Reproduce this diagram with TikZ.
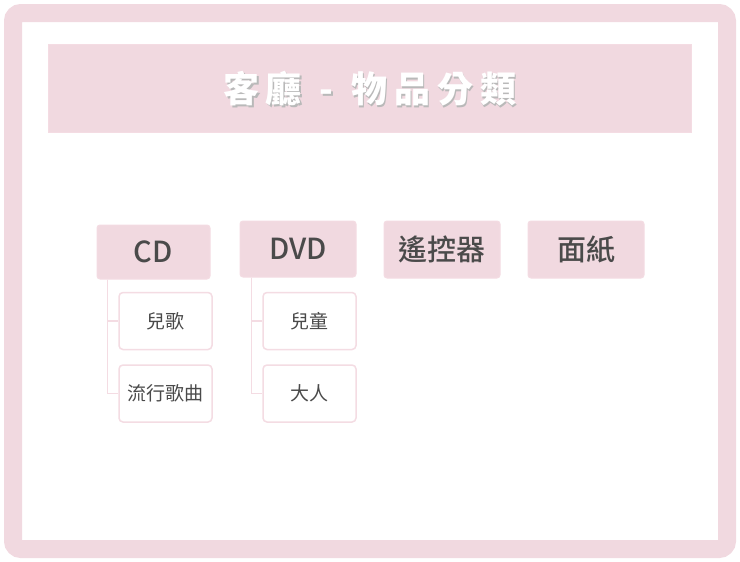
\documentclass[tikz,border=0pt]{standalone}
\usepackage{fontspec}
\newfontfamily\cjk{Noto Sans CJK TC}
\newfontfamily\cjkm{Noto Sans CJK TC Medium}
\definecolor{pk}{HTML}{F1D9E0}
\definecolor{pkb}{HTML}{F4DCE3}
\definecolor{txt}{HTML}{4A4A4A}
\tikzset{
 parent/.style={draw=pkb,fill=pk,rounded corners=3pt,line width=1pt,font=\cjkm\fontsize{29}{32}\selectfont,text=txt},
 child/.style={draw=pkb,fill=white,rounded corners=4pt,line width=1.5pt,minimum width=93pt,minimum height=57pt,font=\cjk\fontsize{19}{22}\selectfont,text=txt},
 link/.style={draw=pkb,line width=1.2pt},
 ttl/.style={font=\cjk\bfseries\fontsize{36}{40}\selectfont}
}
\newcommand{\ttltext}{客\kern6pt 廳\kern18pt -\kern18pt 物\kern7pt 品\kern7pt 分\kern7pt 類}
\begin{document}
\begin{tikzpicture}[x=1pt,y=-1pt]
\useasboundingbox (0,0) rectangle (740,562);
\draw[fill=white,draw=pk,line width=18pt,rounded corners=8pt] (13,13) rectangle (727,549);
\node[fill=pk,draw=pkb,minimum width=643pt,minimum height=88pt,anchor=north west,inner sep=0] (title) at (48,44) {};
\node[ttl,text=gray!55] at (371.5,90.5) {\ttltext};
\node[ttl,text=white] (tt) at (370,89) {\ttltext};
\node[parent,minimum width=113pt,minimum height=54pt] (cd) at (153.5,252) {CD};
\node[parent,minimum width=116pt,minimum height=56pt] (dvd) at (298,249) {DVD};
\node[parent,minimum width=116pt,minimum height=57pt] (rc) at (442,249.5) {遙控器};
\node[parent,minimum width=116pt,minimum height=57pt] (ts) at (586,249.5) {面紙};
\node[child] (c1) at (165.5,321) {兒歌};
\node[child] (c2) at (165.5,393.5) {流行歌曲};
\node[child] (d1) at (309.5,321) {兒童};
\node[child] (d2) at (309.5,393.5) {大人};
\draw[link] (cd.south west) ++(11,0) |- (c1.west);
\draw[link] (cd.south west) ++(11,0) |- (c2.west);
\draw[link] (dvd.south west) ++(12,0) |- (d1.west);
\draw[link] (dvd.south west) ++(12,0) |- (d2.west);
\end{tikzpicture}
\end{document}
